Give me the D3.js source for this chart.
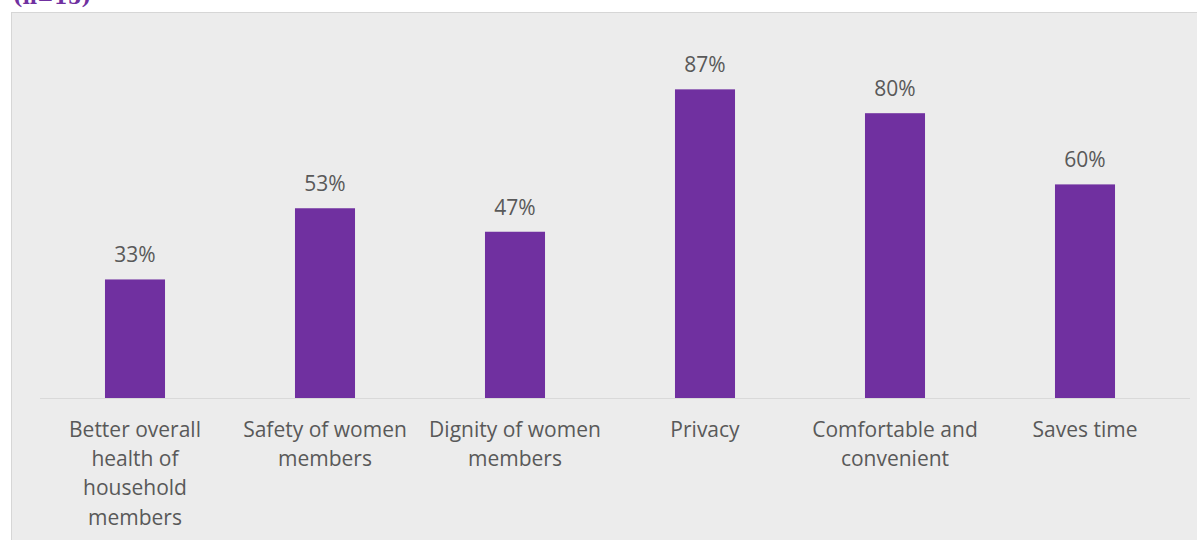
<!DOCTYPE html>
<html>
<head>
<meta charset="utf-8">
<script src="https://cdn.jsdelivr.net/npm/d3@7"></script>
<style>
  body { margin: 0; background: #fff; }
  svg { display: block; }
</style>
</head>
<body>
<div id="chart"></div>
<script>
// survey responses, n=15
const categories = [
  ["Better overall", "health of", "household", "members"],
  ["Safety of women", "members"],
  ["Dignity of women", "members"],
  ["Privacy"],
  ["Comfortable and", "convenient"],
  ["Saves time"]
];
const values = [33.3, 53.3, 46.7, 86.7, 80, 60];
const labels = ["33%", "53%", "47%", "87%", "80%", "60%"];

const width = 1197, height = 540;
const svg = d3.select("#chart").append("svg")
  .attr("width", width).attr("height", height);

// chart panel
svg.append("rect")
  .attr("x", 11.5).attr("y", 12.5)
  .attr("width", width).attr("height", height)
  .attr("fill", "#ececec")
  .attr("stroke", "#d6d6d6");

// title, cut off at the top like the source
svg.append("text")
  .attr("x", 13).attr("y", 4)
  .attr("fill", "#7030a0")
  .attr("font-family", "DejaVu Serif, serif")
  .attr("font-weight", "bold")
  .attr("font-size", 20)
  .text("(n=15)");

const x = d3.scaleBand()
  .domain(d3.range(categories.length))
  .range([40, 1180])
  .paddingInner(0.684).paddingOuter(0.342);

const y = d3.scaleLinear().domain([0, 100]).range([398, 42]);

svg.append("line")
  .attr("x1", 40).attr("x2", 1190)
  .attr("y1", y(0) + 0.5).attr("y2", y(0) + 0.5)
  .attr("stroke", "#d9d9d9").attr("stroke-width", 1.2);

svg.selectAll("rect.bar")
  .data(values)
  .join("rect")
  .attr("class", "bar")
  .attr("x", (d, i) => x(i))
  .attr("width", x.bandwidth())
  .attr("y", d => y(d))
  .attr("height", d => y(0) - y(d))
  .attr("fill", "#7030a0");

svg.selectAll("text.val")
  .data(values)
  .join("text")
  .attr("class", "val")
  .attr("x", (d, i) => x(i) + x.bandwidth() / 2)
  .attr("y", d => y(d) - 17)
  .attr("text-anchor", "middle")
  .attr("fill", "#595959")
  .attr("font-family", "Open Sans, sans-serif")
  .attr("font-size", 21)
  .text((d, i) => labels[i]);

const cat = svg.selectAll("text.cat")
  .data(categories)
  .join("text")
  .attr("class", "cat")
  .attr("text-anchor", "middle")
  .attr("fill", "#595959")
  .attr("font-family", "Open Sans, sans-serif")
  .attr("font-size", 21);

cat.selectAll("tspan")
  .data((d, i) => d.map(t => ({ t, i })))
  .join("tspan")
  .attr("x", d => x(d.i) + x.bandwidth() / 2)
  .attr("y", (d, j) => 437 + j * 29.2)
  .text(d => d.t);
</script>
</body>
</html>
